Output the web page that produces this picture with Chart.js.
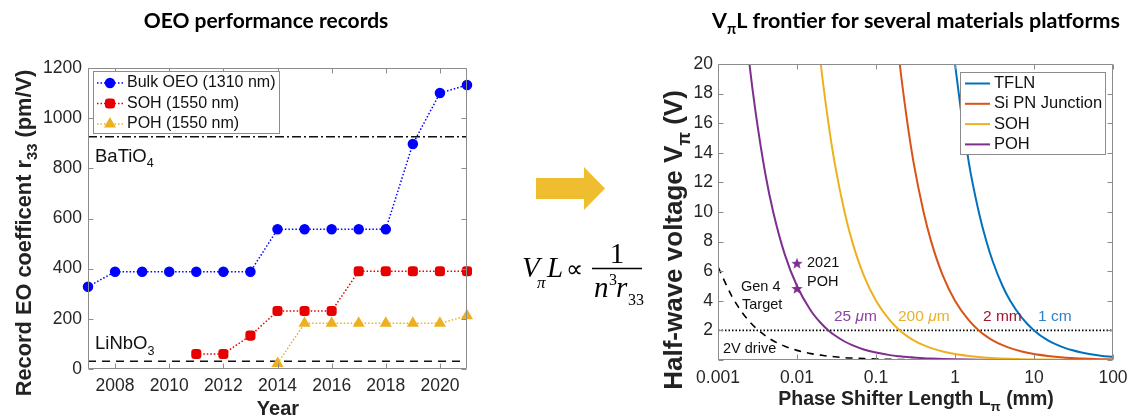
<!DOCTYPE html>
<html>
<head>
<meta charset="utf-8">
<script src="https://cdn.jsdelivr.net/npm/chart.js@4.4.1/dist/chart.umd.min.js"></script>
<style>
  html, body { margin: 0; padding: 0; background: #fff; }
  #wrap { position: relative; width: 1130px; height: 419px; overflow: hidden; background: #fff; }
  #wrap canvas, #wrap svg { position: absolute; left: 0; top: 0; }
</style>
</head>
<body>
<div id="wrap">
  <canvas id="oeoChart" width="1130" height="419"></canvas>
  <canvas id="frontierChart" width="1130" height="419"></canvas>
  <svg id="relation" width="1130" height="419" viewBox="0 0 1130 419">
    <polygon points="536,178 584,178 584,167 605,188.5 584,210 584,199 536,199" fill="#EFBD30"/>
    <g font-family="'Liberation Serif','Times New Roman',serif" fill="#000">
      <text x="522" y="277" font-size="29" font-style="italic">V</text>
      <text x="537" y="288" font-size="17" font-style="italic">π</text>
      <text x="547" y="277" font-size="29" font-style="italic">L</text>
      <text x="566" y="277" font-size="24">∝</text>
      <line x1="592" y1="268.5" x2="642" y2="268.5" stroke="#000" stroke-width="1.3"/>
      <text x="617" y="263" font-size="29" text-anchor="middle">1</text>
      <text x="594" y="297" font-size="29" font-style="italic">n</text>
      <text x="609" y="285" font-size="16">3</text>
      <text x="616" y="297" font-size="29" font-style="italic">r</text>
      <text x="628" y="305" font-size="16">33</text>
    </g>
  </svg>
</div>
<script>
// ---------- OEO performance records ----------
const years = [2007, 2008, 2009, 2010, 2011, 2012, 2013, 2014, 2015, 2016, 2017, 2018, 2019, 2020, 2021];
const bulkOEO = [328, 388, 388, 388, 388, 388, 388, 557, 557, 557, 557, 557, 897, 1100, 1132];
const sohRecord = [null, null, null, null, 60, 60, 133, 231, 231, 231, 390, 390, 390, 390, 390];
const pohRecord = [null, null, null, null, null, null, null, 22, 182, 182, 182, 182, 182, 182, 212];
const bariumTitanateR33 = 926;
const lithiumNiobateR33 = 31;
const yearTicks = [2008, 2010, 2012, 2014, 2016, 2018, 2020];
const r33Ticks = [0, 200, 400, 600, 800, 1000, 1200];

// ---------- V_pi L frontier ----------
const lengthMm = [0.001, 0.0015, 0.002, 0.0025, 0.003, 0.004, 0.005, 0.007, 0.01, 0.015,
                  0.02, 0.025, 0.03, 0.04, 0.05, 0.07, 0.1, 0.15, 0.2, 0.25,
                  0.3, 0.4, 0.5, 0.7, 1, 1.5, 2, 2.5, 3, 4,
                  5, 7, 10, 15, 20, 25, 30, 40, 50, 70, 100];
const tflnVpi = [null, null, null, null, null, null, null, null, null, null,
                 null, null, null, null, null, null, null, null, null, null,
                 null, null, null, 28.6, 20, 13.3, 10, 8, 6.67, 5,
                 4, 2.86, 2, 1.33, 1, 0.8, 0.67, 0.5, 0.4, 0.29, 0.2];
const siPnVpi = [null, null, null, null, null, null, null, null, null, null,
                 null, null, null, null, null, null, null, 26.7, 20, 16,
                 13.3, 10, 8, 5.71, 4, 2.67, 2, 1.6, 1.33, 1,
                 0.8, 0.57, 0.4, 0.27, 0.2, 0.16, 0.13, 0.1, 0.08, 0.057, 0.04];
const sohVpi = [null, null, null, null, null, null, null, null, null, 26.7,
                20, 16, 13.3, 10, 8, 5.71, 4, 2.67, 2, 1.6,
                1.33, 1, 0.8, 0.57, 0.4, 0.27, 0.2, 0.16, 0.13, 0.1,
                0.08, 0.057, 0.04, 0.027, 0.02, 0.016, 0.013, 0.01, 0.008, 0.0057, 0.004];
const pohVpi = [null, null, 25, 20, 16.7, 12.5, 10, 7.14, 5, 3.33,
                2.5, 2, 1.67, 1.25, 1, 0.71, 0.5, 0.33, 0.25, 0.2,
                0.17, 0.125, 0.1, 0.071, 0.05, 0.033, 0.025, 0.02, 0.017, 0.0125,
                0.01, 0.007, 0.005, 0.0033, 0.0025, 0.002, 0.0017, 0.0013, 0.001, 0.0007, 0.0005];
const gen4TargetVpi = [6.3, 4.3, 3.25, 2.6, 2.17, 1.63, 1.3, 0.93, 0.65, 0.43,
                       0.33, 0.26, 0.22, 0.16, 0.13, 0.093, 0.065, 0.043, 0.033, 0.026,
                       0.022, 0.016, 0.013, 0.0093, 0.0065, 0.0043, 0.0033, 0.0026, 0.0022, 0.0016,
                       0.0013, 0.0009, 0.00065, 0.0004, 0.0003, 0.0003, 0.0002, 0.0002, 0.0001, 0.0001, 0.0001];
const driveVoltage = 2;
const poh2021Length = [0.01, 0.01];
const poh2021Vpi = [6.5, 4.8];
const lengthTicks = [0.001, 0.01, 0.1, 1, 10, 100];
const lengthTickLabels = ['0.001', '0.01', '0.1', '1', '10', '100'];
const voltTicks = [0, 2, 4, 6, 8, 10, 12, 14, 16, 18, 20];

// ---------- styling ----------
const SANS = '"Liberation Sans", Arial, Helvetica, sans-serif';
const TITLE_FONT = 'Lato, "Open Sans", sans-serif';
const INK = '#262626';
const FRAME = '#8c8c8c';
const BLUE = '#0000FF', RED = '#E60000', GOLD = '#EDB120';
const C_TFLN = '#0072BD', C_SIPN = '#D95319', C_SOH = '#EDB120', C_POH = '#7E2F8E';

Chart.defaults.font.family = SANS;

const zip = (xs, ys) => xs.map((x, i) => ({ x, y: ys[i] })).filter(p => p.y !== null);

// text with optional subscript / italic runs, anchored on its vertical middle
function richText(ctx, parts, x, y, o) {
  const size = o.size, weight = o.weight || 'normal', fam = o.family || SANS;
  const fontFor = p => `${p.italic ? 'italic ' : ''}${weight} ${p.sub ? size * 0.68 : size}px ${fam}`;
  ctx.save();
  ctx.translate(x, y);
  if (o.rotate) ctx.rotate(o.rotate);
  let w = 0;
  parts.forEach(p => { ctx.font = fontFor(p); p.w = ctx.measureText(p.t).width; w += p.w; });
  let cx = o.align === 'center' ? -w / 2 : (o.align === 'right' ? -w : 0);
  ctx.fillStyle = o.color || '#000';
  ctx.textBaseline = 'middle';
  ctx.textAlign = 'left';
  parts.forEach(p => {
    ctx.font = fontFor(p);
    ctx.fillText(p.t, cx, p.sub ? size * 0.38 : 0);
    cx += p.w;
  });
  ctx.restore();
}

function drawAxesBox(chart) {
  const { ctx, chartArea: a } = chart;
  const xs = chart.scales.x, ys = chart.scales.y;
  const L = Math.round(a.left) + 0.5, R = Math.round(a.right) - 0.5;
  const T = Math.round(a.top) + 0.5, B = Math.round(a.bottom) - 0.5;
  const tl = 5;
  ctx.save();
  ctx.strokeStyle = FRAME;
  ctx.lineWidth = 1;
  ctx.setLineDash([]);
  ctx.beginPath();
  ctx.rect(L, T, R - L, B - T);
  xs.ticks.forEach(t => {
    const p = Math.round(xs.getPixelForValue(t.value)) + 0.5;
    ctx.moveTo(p, B); ctx.lineTo(p, B - tl);
    ctx.moveTo(p, T); ctx.lineTo(p, T + tl);
  });
  ys.ticks.forEach(t => {
    const p = Math.round(ys.getPixelForValue(t.value)) + 0.5;
    ctx.moveTo(L, p); ctx.lineTo(L + tl, p);
    ctx.moveTo(R, p); ctx.lineTo(R - tl, p);
  });
  ctx.stroke();
  ctx.restore();
}

function legendBox(ctx, x, y, w, h) {
  ctx.save();
  ctx.fillStyle = '#fff';
  ctx.strokeStyle = FRAME;
  ctx.lineWidth = 1;
  ctx.setLineDash([]);
  ctx.fillRect(x, y, w, h);
  ctx.strokeRect(x + 0.5, y + 0.5, w - 1, h - 1);
  ctx.restore();
}

// keep the plot box fixed: no extra room reserved for edge tick labels
const fixHeight = h => s => { s.height = h; s.paddingLeft = 0; s.paddingRight = 0; };
const fixWidth = w => s => { s.width = w; s.paddingTop = 0; s.paddingBottom = 0; };

// ---------- left chart ----------
const tickFont = { family: SANS, size: 17.5 };

const oeoDecor = {
  id: 'oeoDecor',
  afterDatasetsDraw(chart) {
    const ctx = chart.ctx;
    const ys = chart.scales.y;
    drawAxesBox(chart);

    // material reference labels
    richText(ctx, [{ t: 'BaTiO' }, { t: '4', sub: true }], 95, ys.getPixelForValue(bariumTitanateR33) + 20, { size: 18.5, color: '#111' });
    richText(ctx, [{ t: 'LiNbO' }, { t: '3', sub: true }], 95, ys.getPixelForValue(lithiumNiobateR33) - 17, { size: 18.5, color: '#111' });

    // legend
    legendBox(ctx, 93, 71, 187, 63);
    const series = chart.data.datasets.slice(0, 3);
    series.forEach((ds, i) => {
      const yy = 83 + 20.5 * i;
      ctx.save();
      ctx.strokeStyle = ds.borderColor;
      ctx.lineWidth = 1.5;
      ctx.setLineDash([1.5, 2]);
      ctx.beginPath(); ctx.moveTo(97, yy); ctx.lineTo(123, yy); ctx.stroke();
      ctx.setLineDash([]);
      ctx.fillStyle = ds.pointBackgroundColor;
      ctx.strokeStyle = ds.pointBorderColor;
      Chart.helpers.drawPoint(ctx, { pointStyle: ds.pointStyle, radius: ds.pointRadius, rotation: 0, borderWidth: 1 }, 110, yy);
      ctx.restore();
      richText(ctx, [{ t: ds.label }], 127, yy, { size: 16, color: '#111' });
    });
  },
  afterDraw(chart) {
    const ctx = chart.ctx;
    richText(ctx, [{ t: 'OEO performance records' }], 266, 21, { size: 21, weight: 'bold', family: TITLE_FONT, align: 'center' });
    richText(ctx, [{ t: 'Record EO coefficent r' }, { t: '33', sub: true }, { t: ' (pm/V)' }], 25, 233,
      { size: 21.8, weight: 'bold', align: 'center', rotate: -Math.PI / 2, color: '#222' });
    richText(ctx, [{ t: 'Year' }], 278, 409, { size: 20, weight: 'bold', align: 'center', color: '#222' });
  }
};

new Chart(document.getElementById('oeoChart'), {
  type: 'line',
  data: {
    datasets: [
      { label: 'Bulk OEO (1310 nm)', data: zip(years, bulkOEO), borderColor: BLUE, pointBackgroundColor: BLUE, pointBorderColor: BLUE,
        pointStyle: 'circle', pointRadius: 4.5, borderWidth: 1.5, borderDash: [1.5, 2], clip: false },
      { label: 'SOH (1550 nm)', data: zip(years, sohRecord), borderColor: RED, pointBackgroundColor: RED, pointBorderColor: RED,
        pointStyle: 'rectRounded', pointRadius: 5, borderWidth: 1.5, borderDash: [1.5, 2], clip: false },
      { label: 'POH (1550 nm)', data: zip(years, pohRecord), borderColor: GOLD, pointBackgroundColor: GOLD, pointBorderColor: GOLD,
        pointStyle: 'triangle', pointRadius: 5.5, borderWidth: 1.5, borderDash: [1.5, 2], clip: false },
      { label: 'BaTiO4', data: zip([years[0], years[years.length - 1]], [bariumTitanateR33, bariumTitanateR33]),
        borderColor: '#111', borderWidth: 1.5, borderDash: [9, 3, 2, 3], pointRadius: 0, clip: false },
      { label: 'LiNbO3', data: zip([years[0], years[years.length - 1]], [lithiumNiobateR33, lithiumNiobateR33]),
        borderColor: '#111', borderWidth: 1.5, borderDash: [8, 6], pointRadius: 0, clip: false }
    ]
  },
  options: {
    responsive: false,
    animation: false,
    events: [],
    layout: { padding: { left: 0, top: 68, right: 663, bottom: 0 } },
    plugins: { legend: { display: false }, tooltip: { enabled: false } },
    scales: {
      x: {
        type: 'linear', min: years[0], max: years[years.length - 1],
        grid: { display: false, drawTicks: false }, border: { display: false },
        afterBuildTicks: s => { s.ticks = yearTicks.map(v => ({ value: v })); },
        afterFit: fixHeight(50),
        ticks: { autoSkip: false, maxRotation: 0, padding: 7, color: INK, font: tickFont, callback: v => String(v) }
      },
      y: {
        min: r33Ticks[0], max: r33Ticks[r33Ticks.length - 1],
        grid: { display: false, drawTicks: false }, border: { display: false },
        afterBuildTicks: s => { s.ticks = r33Ticks.map(v => ({ value: v })); },
        afterFit: fixWidth(88),
        ticks: { autoSkip: false, padding: 6, color: INK, font: tickFont, callback: v => String(v) }
      }
    }
  },
  plugins: [oeoDecor]
});

// ---------- right chart ----------
function starImage(color, r) {
  const c = document.createElement('canvas');
  const s = Math.ceil(r * 2) + 2;
  c.width = c.height = s;
  const g = c.getContext('2d');
  g.fillStyle = color;
  g.beginPath();
  for (let i = 0; i < 10; i++) {
    const ang = -Math.PI / 2 + i * Math.PI / 5;
    const rr = i % 2 ? r * 0.42 : r;
    g.lineTo(s / 2 + rr * Math.cos(ang), s / 2 + rr * Math.sin(ang));
  }
  g.closePath();
  g.fill();
  return c;
}

const frontierDecor = {
  id: 'frontierDecor',
  afterDatasetsDraw(chart) {
    const ctx = chart.ctx;
    drawAxesBox(chart);

    // legend
    legendBox(ctx, 960, 72, 146, 83);
    chart.data.datasets.slice(0, 4).forEach((ds, i) => {
      const yy = 83.5 + 20.3 * i;
      ctx.save();
      ctx.strokeStyle = ds.borderColor;
      ctx.lineWidth = 2;
      ctx.beginPath(); ctx.moveTo(965, yy); ctx.lineTo(990, yy); ctx.stroke();
      ctx.restore();
      richText(ctx, [{ t: ds.label }], 994, yy, { size: 16.5, color: '#111' });
    });

    // annotations
    const ann = { size: 14.5, color: '#111' };
    richText(ctx, [{ t: 'Gen 4' }], 741, 287, ann);
    richText(ctx, [{ t: 'Target' }], 742, 305, ann);
    richText(ctx, [{ t: '2V drive' }], 723, 349, ann);
    richText(ctx, [{ t: '2021' }], 807, 263, ann);
    richText(ctx, [{ t: 'POH' }], 807, 282, ann);

    const lab = { size: 15.5 };
    richText(ctx, [{ t: '25 ' }, { t: 'μ', italic: true }, { t: 'm' }], 834, 317, Object.assign({ color: '#8B45A3' }, lab));
    richText(ctx, [{ t: '200 ' }, { t: 'μ', italic: true }, { t: 'm' }], 898, 317, Object.assign({ color: '#E9B12A' }, lab));
    richText(ctx, [{ t: '2 mm' }], 983, 317, Object.assign({ color: '#A2142F' }, lab));
    richText(ctx, [{ t: '1 cm' }], 1038, 317, Object.assign({ color: '#2F7FC8' }, lab));
  },
  afterDraw(chart) {
    const ctx = chart.ctx;
    richText(ctx, [{ t: 'V' }, { t: 'π', sub: true }, { t: 'L frontier for several materials platforms' }], 916, 21,
      { size: 21.5, weight: 'bold', family: TITLE_FONT, align: 'center' });
    richText(ctx, [{ t: 'Half-wave voltage V' }, { t: 'π', sub: true }, { t: ' (V)' }], 675, 240,
      { size: 26, weight: 'bold', align: 'center', rotate: -Math.PI / 2, color: '#222' });
    richText(ctx, [{ t: 'Phase Shifter Length L' }, { t: 'π', sub: true }, { t: ' (mm)' }], 916, 400,
      { size: 19.5, weight: 'bold', align: 'center', color: '#222' });
  }
};

const curve = (label, ys, color) => ({
  label, data: zip(lengthMm, ys), borderColor: color, borderWidth: 2, pointRadius: 0,
  cubicInterpolationMode: 'monotone'
});

new Chart(document.getElementById('frontierChart'), {
  type: 'line',
  data: {
    datasets: [
      curve('TFLN', tflnVpi, C_TFLN),
      curve('Si PN Junction', siPnVpi, C_SIPN),
      curve('SOH', sohVpi, C_SOH),
      curve('POH', pohVpi, C_POH),
      { label: 'Gen 4 Target', data: zip(lengthMm, gen4TargetVpi), borderColor: '#000', borderWidth: 1.6,
        borderDash: [7, 6], pointRadius: 0, cubicInterpolationMode: 'monotone' },
      { label: '2V drive', data: zip([lengthTicks[0], lengthTicks[lengthTicks.length - 1]], [driveVoltage, driveVoltage]),
        borderColor: '#000', borderWidth: 1.6, borderDash: [1.5, 2], pointRadius: 0 },
      { label: '2021 POH', data: zip(poh2021Length, poh2021Vpi), showLine: false,
        pointStyle: starImage(C_POH, 6), pointRadius: 6, clip: false }
    ]
  },
  options: {
    responsive: false,
    animation: false,
    events: [],
    layout: { padding: { left: 640, top: 64, right: 17, bottom: 0 } },
    plugins: { legend: { display: false }, tooltip: { enabled: false } },
    scales: {
      x: {
        type: 'logarithmic', min: lengthTicks[0], max: lengthTicks[lengthTicks.length - 1],
        grid: { display: false, drawTicks: false }, border: { display: false },
        afterBuildTicks: s => { s.ticks = lengthTicks.map(v => ({ value: v })); },
        afterFit: fixHeight(59),
        ticks: { autoSkip: false, maxRotation: 0, padding: 8, color: INK, font: tickFont,
                 callback: (v, i) => lengthTickLabels[i] }
      },
      y: {
        min: voltTicks[0], max: voltTicks[voltTicks.length - 1],
        grid: { display: false, drawTicks: false }, border: { display: false },
        afterBuildTicks: s => { s.ticks = voltTicks.map(v => ({ value: v })); },
        afterFit: fixWidth(78),
        ticks: { autoSkip: false, padding: 5, color: INK, font: tickFont, callback: v => (v === 0 ? '' : String(v)) }
      }
    }
  },
  plugins: [frontierDecor]
});
</script>
</body>
</html>
